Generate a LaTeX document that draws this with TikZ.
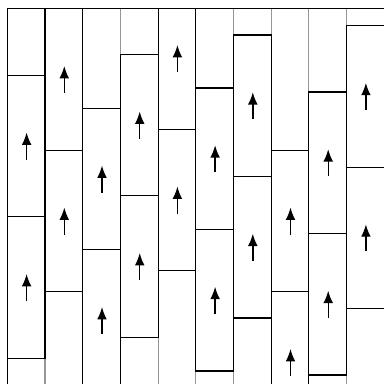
\documentclass[tikz,border=0pt]{standalone}
\usetikzlibrary{arrows.meta}
\definecolor{tileLine}{RGB}{0,0,0}
\definecolor{tileGhost}{RGB}{150,150,150}
\tikzset{
  tileedge/.style={
    draw=tileLine,
    line width=0.6pt
  },
  tileghost/.style={
    draw=tileGhost,
    line width=0.6pt
  },
  spin/.style={
    -{Latex[length=7pt,width=5.5pt]},
    line width=0.8pt,
    draw=tileLine
  }
}

\begin{document}
\begin{tikzpicture}[x=0.02cm, y=-0.02cm]
  \useasboundingbox (0,0) rectangle (384,383);

  % faint column borders
  \foreach \i in {1,...,10}
    \draw[tileghost] (7.3+37.7*\i,8.8) -- ++(0,390);

  % two dominoes per column, each with its arrow
  \begin{scope}
    \clip (7.3,8.8) rectangle (420,420);
    \foreach \yt [count=\i from 0] in {75.3,8.8,108.3,54.3,-12.2,88,35,150.3,92,25.7} {
      \pgfmathsetmacro\xl{7.3+37.7*\i}
      \draw[tileedge] (\xl,\yt) rectangle ++(37.7,141.5);
      \draw[tileedge] (\xl,\yt+141.5) rectangle ++(37.7,141.5);
      \draw[spin] (\xl+19.3,\yt+84.2) -- ++(0,-27);
      \draw[spin] (\xl+19.3,\yt+225.7) -- ++(0,-27);
    }
  \end{scope}

  % frame
  \draw[tileedge] (7.3,420) |- (420,8.8);
\end{tikzpicture}
\end{document}
